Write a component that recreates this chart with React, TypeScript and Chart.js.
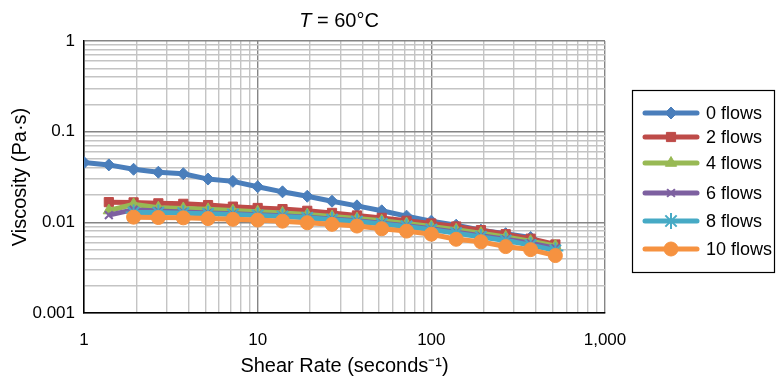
import React, { useEffect, useRef } from 'react';
import { Chart, registerables } from 'chart.js';
import { drawPoint } from 'chart.js/helpers';

Chart.register(...registerables);

// Shear rate (s^-1) at which the viscosity was sampled
const shearRates = [1, 1.39, 1.93, 2.68, 3.73, 5.18, 7.2, 10, 13.9, 19.3, 26.8, 37.3, 51.8, 72, 100, 139, 193, 268, 373, 518];

const seriesNames = ['0 flows', '2 flows', '4 flows', '6 flows', '8 flows', '10 flows'];

// Viscosity (Pa·s); null = no measurement at that shear rate
const flows0 = [0.0456, 0.043, 0.0385, 0.0357, 0.0344, 0.030, 0.0283, 0.0247, 0.0217, 0.0194, 0.0171, 0.0152, 0.0134, 0.0117, 0.0103, 0.0093, 0.0082, 0.0075, 0.0068, null];
const flows2 = [null, 0.0167, 0.0166, 0.0162, 0.0160, 0.0155, 0.0149, 0.0144, 0.0140, 0.0134, 0.0127, 0.0119, 0.0112, 0.0104, 0.0097, 0.0090, 0.0082, 0.0074, 0.0066, 0.0057];
const flows4 = [null, 0.0135, 0.0158, 0.0145, 0.0142, 0.0139, 0.0135, 0.0131, 0.0127, 0.0122, 0.0116, 0.0110, 0.0104, 0.0097, 0.0090, 0.0083, 0.0076, 0.0069, 0.0062, 0.0055];
const flows6 = [null, 0.0120, 0.0138, 0.0133, 0.0130, 0.0127, 0.0124, 0.0121, 0.0118, 0.0114, 0.0109, 0.0104, 0.0098, 0.0092, 0.0085, 0.0078, 0.0071, 0.0065, 0.0059, 0.0052];
const flows8 = [null, null, 0.0128, 0.0128, 0.0126, 0.0124, 0.0122, 0.0119, 0.0116, 0.0112, 0.0107, 0.0102, 0.0096, 0.0090, 0.0083, 0.0076, 0.0069, 0.0063, 0.0056, 0.0049];
const flows10 = [null, null, 0.0114, 0.0113, 0.0112, 0.0110, 0.0108, 0.0106, 0.0103, 0.0099, 0.0095, 0.0091, 0.0085, 0.0080, 0.0074, 0.0065, 0.0061, 0.0054, 0.0050, 0.0043];

const seriesValues = [flows0, flows2, flows4, flows6, flows8, flows10];
const seriesColors = ['#4A7EBB', '#BE4B48', '#98B954', '#7D60A0', '#46AAC5', '#F69240'];
const seriesMarkers = ['rectRot', 'rect', 'triangle', 'crossRot', 'star', 'circle'];
const markerRadius = [6, 6.5, 6.5, 5.5, 8, 7];

const xTickValues = [1, 10, 100, 1000];
const yTickValues = [0.001, 0.01, 0.1, 1];

const FONT = "'Liberation Sans', Arial, Helvetica, sans-serif";

const isPow10 = (v: number) => {
  const l = Math.log10(v);
  return Math.abs(l - Math.round(l)) < 1e-6;
};

const titlePlugin = {
  id: 'customTitle',
  afterDraw(chart: any) {
    const ctx = chart.ctx;
    ctx.save();
    ctx.fillStyle = '#000';
    ctx.textBaseline = 'middle';
    const italic = `italic 20px ${FONT}`;
    const normal = `20px ${FONT}`;
    ctx.font = italic;
    const w1 = ctx.measureText('T').width;
    ctx.font = normal;
    const rest = ' = 60°C';
    const w2 = ctx.measureText(rest).width;
    const cx = 339;
    const x0 = cx - (w1 + w2) / 2;
    ctx.font = italic;
    ctx.textAlign = 'left';
    ctx.fillText('T', x0, 21);
    ctx.font = normal;
    ctx.fillText(rest, x0 + w1, 21);
    ctx.restore();
  },
};

const legendYs = [113, 137, 163, 193, 221, 249];

const legendPlugin = {
  id: 'customLegend',
  afterDraw(chart: any) {
    const ctx = chart.ctx;
    ctx.save();
    ctx.strokeStyle = '#000';
    ctx.lineWidth = 1.2;
    ctx.strokeRect(632.5, 90.5, 142, 182);
    chart.data.datasets.forEach((ds: any, i: number) => {
      const y = legendYs[i];
      ctx.strokeStyle = ds.borderColor;
      ctx.lineWidth = 5;
      ctx.lineCap = 'round';
      ctx.beginPath();
      ctx.moveTo(645, y);
      ctx.lineTo(697, y);
      ctx.stroke();
      ctx.fillStyle = ds.pointBackgroundColor;
      ctx.strokeStyle = ds.pointBorderColor;
      ctx.lineCap = 'butt';
      ctx.lineWidth = ds.pointBorderWidth;
      drawPoint(ctx, { pointStyle: ds.pointStyle, rotation: 0, radius: ds.pointRadius, borderWidth: ds.pointBorderWidth }, 671, y);
      ctx.fillStyle = '#000';
      ctx.font = `18px ${FONT}`;
      ctx.textAlign = 'left';
      ctx.textBaseline = 'middle';
      ctx.fillText(ds.label, 706, y + 1);
    });
    ctx.restore();
  },
};

export default function App() {
  const ref = useRef<HTMLCanvasElement | null>(null);
  useEffect(() => {
    document.body.style.margin = '0';
    const datasets = seriesValues.map((vals, i) => {
      const pts = vals
        .map((v, j) => (v == null ? null : { x: shearRates[j], y: v }))
        .filter((p) => p !== null);
      const isLineMarker = seriesMarkers[i] === 'crossRot' || seriesMarkers[i] === 'star';
      return {
        label: seriesNames[i],
        data: pts,
        borderColor: seriesColors[i],
        backgroundColor: seriesColors[i],
        borderWidth: 5,
        pointStyle: seriesMarkers[i],
        pointRadius: markerRadius[i],
        pointBackgroundColor: seriesColors[i],
        pointBorderColor: seriesColors[i],
        pointBorderWidth: isLineMarker ? 2 : 1,
        tension: 0,
        order: seriesValues.length - i,
      };
    });
    const chart = new Chart(ref.current as HTMLCanvasElement, {
      type: 'line',
      data: { datasets: datasets as any },
      options: {
        animation: false,
        responsive: true,
        maintainAspectRatio: false,
        layout: { padding: { top: 41, right: 171, left: 0, bottom: 0 } },
        plugins: {
          legend: { display: false },
          title: { display: false },
          tooltip: { enabled: false },
        },
        scales: {
          x: {
            type: 'logarithmic',
            min: 1,
            max: 1000,
            afterFit: (s: any) => { s.height = 64; },
            afterBuildTicks: (s: any) => {
              const t: any[] = [];
              for (let e = 0; e < 3; e++) {
                for (let m = 1; m < 10; m++) t.push({ value: m * Math.pow(10, e) });
              }
              t.push({ value: 1000 });
              s.ticks = t;
            },
            grid: {
              drawTicks: false,
              color: (c: any) => (c.tick && isPow10(c.tick.value) ? '#858585' : '#c4c4c4'),
              lineWidth: 1.4,
            },
            border: { color: '#000', width: 1.5 },
            ticks: {
              autoSkip: false,
              maxRotation: 0,
              padding: 17,
              color: '#000',
              font: { size: 17, family: FONT },
              callback: (v: any) => {
                const n = Number(v);
                return xTickValues.some((t) => Math.abs(t - n) < 1e-9) ? n.toLocaleString('en-US') : '';
              },
            },
            title: {
              display: true,
              text: 'Shear Rate (seconds⁻¹)',
              color: '#000',
              font: { size: 20, family: FONT },
              padding: { top: 0, bottom: -1 },
            },
          },
          y: {
            type: 'logarithmic',
            min: 0.001,
            max: 1,
            afterFit: (s: any) => { s.width = 84; },
            afterBuildTicks: (s: any) => {
              const t: any[] = [];
              for (let e = -3; e < 0; e++) {
                for (let m = 1; m < 10; m++) t.push({ value: Number((m * Math.pow(10, e)).toPrecision(3)) });
              }
              t.push({ value: 1 });
              s.ticks = t;
            },
            grid: {
              drawTicks: false,
              color: (c: any) => (c.tick && isPow10(c.tick.value) ? '#858585' : '#c4c4c4'),
              lineWidth: 1.4,
            },
            border: { color: '#000', width: 1.5 },
            ticks: {
              autoSkip: false,
              padding: 9,
              color: '#000',
              font: { size: 17, family: FONT },
              callback: (v: any) => {
                const n = Number(v);
                return yTickValues.some((t) => Math.abs(t - n) < 1e-12) ? String(Number(n.toPrecision(1))) : '';
              },
            },
            title: {
              display: true,
              text: 'Viscosity (Pa·s)',
              color: '#000',
              font: { size: 20, family: FONT },
              padding: { top: 8, bottom: 0 },
            },
          },
        },
      },
      plugins: [titlePlugin, legendPlugin],
    });
    return () => chart.destroy();
  }, []);
  return (
    <div style={{ position: 'absolute', left: 0, top: 0, width: 776, height: 377 }}>
      <canvas ref={ref} />
    </div>
  );
}
